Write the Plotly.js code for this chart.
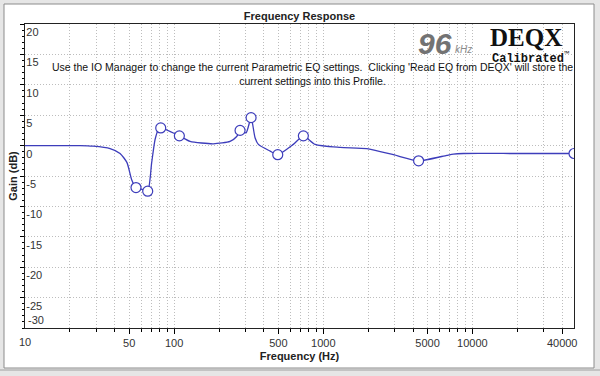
<!DOCTYPE html>
<html>
<head>
<meta charset="utf-8">
<script src="https://cdn.plot.ly/plotly-3.0.1.min.js"></script>
<style>
html,body{margin:0;padding:0;background:#fff;}
#chart{width:600px;height:376px;}
</style>
</head>
<body>
<div id="chart"></div>
<script>
// Response curve (frequency in Hz, gain in dB)
const curveFreq = [10, 17.2, 23.4, 28.6, 37.2, 43.4, 48.3, 51.9, 55.5, 60.9, 66.5, 70.7, 74.5, 78.3, 81.3,
  108.4, 127.9, 183.2, 237.1, 262.9, 276.7, 303.6, 328, 348.8, 367, 439.8, 495.2, 630.3, 735.4,
  881, 1296, 1958, 2953, 4357, 6735, 7459, 8703, 20000, 48000];
const curveGain = [0, 0, 0, -0.1, -0.5, -1.3, -2.8, -5.6, -6.9, -7.2, -7.5, -2.8, 1.0, 2.6, 2.9,
  1.6, 0.7, 0.3, 0.7, 1.5, 2.5, 2.1, 4.6, 1.3, 0.2, -0.9, -1.5, 0.2, 1.6,
  0.2, -0.3, -0.5, -1.5, -2.5, -1.6, -1.4, -1.3, -1.3, -1.3];
// Parametric EQ filter points (circles)
const eqFreq = [55.5, 66.5, 81.3, 108.4, 276.7, 328, 495.2, 735.4, 4357, 48000];
const eqGain = [-6.9, -7.5, 2.9, 1.6, 2.5, 4.6, -1.5, 1.6, -2.5, -1.3];
// Axis ticks
const xTickVals = [10, 50, 100, 500, 1000, 5000, 10000, 40000];
const xTickText = ['10', '50', '100', '500', '1000', '5000', '10000', '40000'];
const xMinorVals = [20, 30, 40, 60, 70, 80, 90, 200, 300, 400, 600, 700, 800, 900,
  2000, 3000, 4000, 6000, 7000, 8000, 9000, 20000, 30000];
const yTickVals = [20, 15, 10, 5, 0, -5, -10, -15, -20, -25];
const yTickText = ['20', '15', '10', '5', '0', '-5', '-10', '-15', '-20', '-25'];
const yBottomVals = [-30];
const yBottomText = ['-30'];

const PL = 25, PR = 574, PT = 24, PB = 328;
const xp = px => (px - PL) / (PR - PL);
const yp = py => (PB - py) / (PB - PT);

const lineColor = '#3d3dbb';
const gridCol = '#bdbdbd';
const xRange = [1, Math.log10(48000)];

const traces = [
  {x: curveFreq, y: curveGain, type: 'scatter', mode: 'lines',
   line: {color: lineColor, width: 1.3, shape: 'spline', smoothing: 0.6}, hoverinfo: 'skip'},
  {x: eqFreq, y: eqGain, type: 'scatter', mode: 'markers',
   marker: {symbol: 'circle', size: 10, color: '#ffffff', line: {color: lineColor, width: 1.2}}},
  // overlay axis carrying only the -30 label, which sits above its tick
  {x: [null], y: [null], yaxis: 'y2', type: 'scatter', mode: 'lines', hoverinfo: 'skip'}
];

const layout = {
  width: 600, height: 376,
  margin: {l: PL, r: 600 - PR, t: PT, b: 376 - PB, pad: 0},
  paper_bgcolor: '#e6e6e6',
  plot_bgcolor: '#ffffff',
  showlegend: false,
  font: {family: 'Liberation Sans, Arial, sans-serif', size: 11, color: '#333'},
  title: {text: '<b>Frequency Response</b>', font: {size: 11, color: '#222'},
          x: 0.5, xref: 'paper', y: 1 - 16 / 376, yref: 'container', yanchor: 'middle'},
  xaxis: {
    type: 'log', range: xRange,
    tickmode: 'array', tickvals: xTickVals, ticktext: xTickText,
    ticks: 'outside', ticklen: 5, tickcolor: '#000', tickfont: {size: 11, color: '#333'},
    showgrid: true, gridcolor: gridCol, griddash: '1px,2px', gridwidth: 1,
    minor: {tickmode: 'array', tickvals: xMinorVals, ticks: 'outside', ticklen: 3, tickcolor: '#000',
            showgrid: true, gridcolor: gridCol, griddash: '1px,2px', gridwidth: 1},
    showline: true, linecolor: '#222', linewidth: 1, mirror: true, zeroline: false,
    title: {text: '<b>Frequency (Hz)</b>', font: {size: 11, color: '#222'}, standoff: 4}
  },
  yaxis: {
    range: [-30, 20],
    tickmode: 'array', tickvals: yTickVals, ticktext: yTickText,
    ticks: 'outside', ticklen: 4, tickcolor: '#000',
    ticklabelposition: 'inside bottom', tickfont: {size: 11, color: '#333'},
    showgrid: true, gridcolor: gridCol, griddash: '1px,2px', gridwidth: 1,
    minor: {dtick: 1, ticks: 'outside', ticklen: 2, tickcolor: '#000', showgrid: false},
    showline: true, linecolor: '#222', linewidth: 1, mirror: true, zeroline: false,
    title: {text: '<b>Gain (dB)</b>', font: {size: 11, color: '#222'}, standoff: 6}
  },
  yaxis2: {
    overlaying: 'y', side: 'left', range: [-30, 20],
    tickmode: 'array', tickvals: yBottomVals, ticktext: yBottomText,
    ticks: '', ticklabelposition: 'inside top', tickfont: {size: 11, color: '#333'},
    showgrid: false, showline: false, zeroline: false
  },
  shapes: [
    {type: 'rect', xref: 'paper', yref: 'paper', layer: 'below',
     x0: xp(4), x1: xp(594), y0: yp(368), y1: yp(4),
     fillcolor: '#ffffff', line: {color: '#8c8c8c', width: 1}},
    {type: 'line', xref: 'paper', yref: 'paper', layer: 'below',
     x0: xp(0), x1: xp(600), y0: yp(370), y1: yp(370), line: {color: '#a0a0a0', width: 1}}
  ],
  annotations: [
    // first x tick label: Plotly hides the axis label at the corner next to inside y labels
    {xref: 'x', yref: 'paper', x: Math.log10(xTickVals[0]), y: yp(334), xanchor: 'center', yanchor: 'top',
     showarrow: false, text: xTickText[0], font: {size: 11, color: '#333'}},
    {xref: 'paper', yref: 'paper', x: xp(312), y: yp(74), xanchor: 'center', yanchor: 'middle',
     showarrow: false, align: 'center', font: {size: 10.5, color: '#111'},
     text: "Use the IO Manager to change the current Parametric EQ settings.  Clicking 'Read EQ from DEQX' will store the<br>current settings into this Profile."},
    {xref: 'paper', yref: 'paper', x: xp(435), y: yp(43), xanchor: 'center', yanchor: 'middle',
     showarrow: false, text: '<b><i>96</i></b>', font: {size: 30, color: '#737373', family: 'Liberation Sans, Arial'}},
    {xref: 'paper', yref: 'paper', x: xp(453), y: yp(49), xanchor: 'left', yanchor: 'middle',
     showarrow: false, text: '<i>kHz</i>', font: {size: 10, color: '#8a8a8a', family: 'Liberation Sans, Arial'}},
    {xref: 'paper', yref: 'paper', x: xp(526), y: yp(37), xanchor: 'center', yanchor: 'middle',
     showarrow: false, text: '<b>DEQX</b>', font: {size: 25, color: '#111', family: 'Liberation Serif, Times New Roman, serif'}},
    {xref: 'paper', yref: 'paper', x: xp(530), y: yp(58), xanchor: 'center', yanchor: 'middle',
     showarrow: false, text: '<b>Calibrated</b><sup>™</sup>', font: {size: 12, color: '#111', family: 'Liberation Mono, Courier New, monospace'}}
  ]
};

Plotly.newPlot('chart', traces, layout, {displayModeBar: false, staticPlot: true});
</script>
</body>
</html>
